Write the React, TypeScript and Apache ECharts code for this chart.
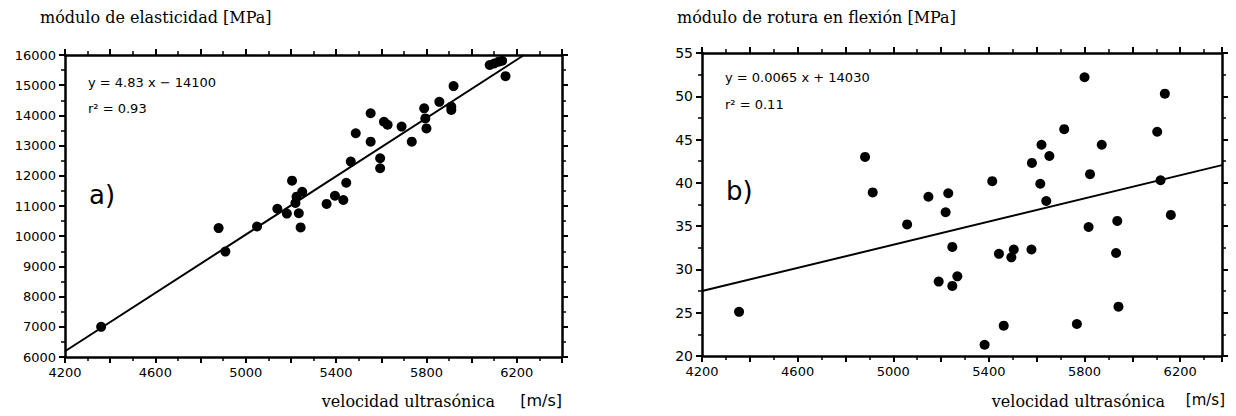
import React, { useEffect, useRef } from "react";
import * as echarts from "echarts";

// ---- data ----
// a) módulo de elasticidad [MPa] vs velocidad ultrasónica [m/s]
const elasticidadPoints: [number, number][] = [
  [4360, 7000], [4880, 10270], [4910, 9490], [5050, 10320], [5140, 10910],
  [5182, 10750], [5205, 11840], [5220, 11100], [5225, 11310], [5235, 10760],
  [5243, 10290], [5250, 11470], [5358, 11070], [5395, 11340], [5432, 11200],
  [5445, 11770], [5465, 12470], [5487, 13410], [5553, 14070], [5553, 13130],
  [5595, 12580], [5595, 12250], [5612, 13790], [5628, 13690], [5690, 13630],
  [5735, 13130], [5790, 14235], [5795, 13900], [5800, 13570], [5857, 14450],
  [5910, 14290], [5910, 14180], [5920, 14970], [6080, 15670], [6100, 15720],
  [6120, 15780], [6135, 15810], [6150, 15300],
];
const elasticidadFit: [number, number][] = [[4200, 6190], [6232, 16000]];

// b) módulo de rotura en flexión [MPa] vs velocidad ultrasónica [m/s]
const roturaPoints: [number, number][] = [
  [4355, 25.1], [4882, 43.0], [4914, 38.9], [5058, 35.2], [5147, 38.4],
  [5190, 28.6], [5219, 36.6], [5230, 38.8], [5247, 32.6], [5247, 28.1],
  [5268, 29.2], [5382, 21.3], [5414, 40.2], [5442, 31.8], [5462, 23.5],
  [5494, 31.4], [5504, 32.3], [5578, 32.3], [5580, 42.3], [5615, 39.9],
  [5620, 44.4], [5640, 37.9], [5653, 43.1], [5715, 46.2], [5768, 23.7],
  [5800, 52.2], [5817, 34.9], [5823, 41.0], [5872, 44.4], [5932, 31.9],
  [5937, 35.6], [5942, 25.7], [6104, 45.9], [6118, 40.3], [6136, 50.3],
  [6161, 36.3],
];
const roturaFit: [number, number][] = [[4200, 27.5], [6375, 42.05]];

const xLabelStep = 400; // labels 4200, 4600, ... 6200
const xTickStep = 200;

const titleA = "módulo de elasticidad [MPa]";
const titleB = "módulo de rotura en flexión [MPa]";
const eqA = "y = 4.83 x − 14100";
const r2A = "r² = 0.93";
const eqB = "y = 0.0065 x + 14030";
const r2B = "r² = 0.11";
const xName = "velocidad ultrasónica";
const xUnit = "[m/s]";

const SANS = '"DejaVu Sans", "Liberation Sans", sans-serif';
const SERIF = '"DejaVu Serif", "Liberation Serif", serif';
const INK = "#000000";

// axis that only carries the labels
function labelAxis(grid: number, min: number, max: number, interval: number, pos: string, fontSize: number, showMax: boolean) {
  return {
    gridIndex: grid,
    type: "value",
    min,
    max,
    interval,
    position: pos,
    axisLine: { show: false, onZero: false },
    axisTick: { show: false },
    minorTick: { show: false },
    splitLine: { show: false },
    axisLabel: {
      show: true,
      margin: 9,
      color: "#000",
      fontFamily: SANS,
      fontSize,
      showMinLabel: true,
      showMaxLabel: showMax,
      formatter: (v: number) => String(v),
    },
  };
}

// axis that carries the frame line and ticks
function tickAxis(grid: number, min: number, max: number, interval: number, pos: string) {
  return {
    gridIndex: grid,
    type: "value",
    min,
    max,
    interval,
    position: pos,
    axisLine: { show: true, onZero: false, lineStyle: { color: INK, width: 2.5 } },
    axisTick: { show: true, length: 6, lineStyle: { color: INK, width: 2 } },
    minorTick: { show: true, splitNumber: 2, length: 4, lineStyle: { color: INK, width: 1.5 } },
    splitLine: { show: false },
    axisLabel: { show: false },
  };
}

export default function App() {
  const ref = useRef<HTMLDivElement>(null);

  useEffect(() => {
    if (!ref.current) return;
    const chart = echarts.init(ref.current, undefined, { renderer: "svg" });

    const text = (t: string, x: number, y: number, font: string, align = "left") => ({
      type: "text",
      x,
      y,
      silent: true,
      style: { text: t, font, fill: "#000", textAlign: align, textVerticalAlign: "middle" },
    });

    chart.setOption({
      animation: false,
      grid: [
        { left: 65, top: 55, width: 497, height: 302 },
        { left: 702, top: 53, width: 520, height: 303 },
      ],
      xAxis: [
        labelAxis(0, 4200, 6400, xLabelStep, "bottom", 13, false),
        tickAxis(0, 4200, 6400, xTickStep, "bottom"),
        tickAxis(0, 4200, 6400, xTickStep, "top"),
        labelAxis(1, 4200, 6375, xLabelStep, "bottom", 13, false),
        tickAxis(1, 4200, 6375, xTickStep, "bottom"),
        tickAxis(1, 4200, 6375, xTickStep, "top"),
      ],
      yAxis: [
        labelAxis(0, 6000, 16000, 1000, "left", 13, true),
        tickAxis(0, 6000, 16000, 1000, "left"),
        tickAxis(0, 6000, 16000, 1000, "right"),
        labelAxis(1, 20, 55, 5, "left", 14, true),
        tickAxis(1, 20, 55, 5, "left"),
        tickAxis(1, 20, 55, 5, "right"),
      ],
      series: [
        {
          type: "line",
          xAxisIndex: 1,
          yAxisIndex: 1,
          data: elasticidadFit,
          symbol: "none",
          lineStyle: { color: INK, width: 2 },
          silent: true,
          z: 2,
        },
        {
          type: "scatter",
          xAxisIndex: 1,
          yAxisIndex: 1,
          data: elasticidadPoints,
          symbol: "circle",
          symbolSize: 10,
          itemStyle: { color: "#000000", opacity: 1 },
          z: 3,
        },
        {
          type: "line",
          xAxisIndex: 4,
          yAxisIndex: 4,
          data: roturaFit,
          symbol: "none",
          lineStyle: { color: INK, width: 2 },
          silent: true,
          z: 2,
        },
        {
          type: "scatter",
          xAxisIndex: 4,
          yAxisIndex: 4,
          data: roturaPoints,
          symbol: "circle",
          symbolSize: 10,
          itemStyle: { color: "#000000", opacity: 1 },
          z: 3,
        },
      ],
      graphic: [
        text(titleA, 40, 17, `16px ${SERIF}`),
        text(titleB, 677, 17, `16px ${SERIF}`),
        text(eqA, 88, 82, `13px ${SANS}`),
        text(r2A, 88, 108, `13px ${SANS}`),
        text("a)", 89, 195, `26px ${SANS}`),
        text(eqB, 725, 77, `13px ${SANS}`),
        text(r2B, 725, 104, `13px ${SANS}`),
        text("b)", 726, 191, `26px ${SANS}`),
        text(xName, 495, 401, `16px ${SERIF}`, "right"),
        text(xUnit, 562, 400, `16px ${SANS}`, "right"),
        text(xName, 1165, 401, `16px ${SERIF}`, "right"),
        text(xUnit, 1225, 400, `15px ${SANS}`, "right"),
      ],
    });

    return () => chart.dispose();
  }, []);

  return <div ref={ref} style={{ position: "absolute", left: 0, top: 0, width: 1236, height: 416 }} />;
}
